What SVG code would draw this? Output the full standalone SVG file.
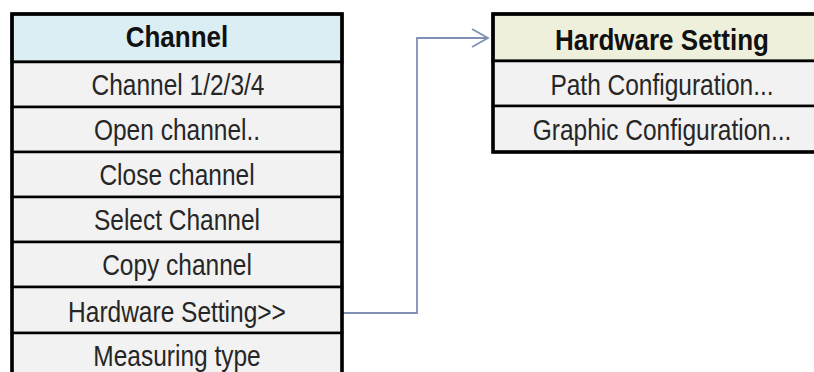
<svg xmlns="http://www.w3.org/2000/svg" width="814" height="372" viewBox="0 0 814 372">
<style>
.row{fill:#f2f2f2;stroke:#000;stroke-width:2.5}
.hdrL{fill:#dbeef4;stroke:#000;stroke-width:3}
.hdrR{fill:#eef0dc;stroke:#000;stroke-width:3}
.t{font-family:"Liberation Sans",Arial,sans-serif;font-size:24.5px;fill:#262626;text-anchor:middle}
.b{font-family:"Liberation Sans",Arial,sans-serif;font-size:26px;font-weight:bold;fill:#111;text-anchor:middle}
.outer{fill:none;stroke:#000;stroke-width:3.5}
.conn{fill:none;stroke:#7f90b4;stroke-width:1.8}
</style>
<defs>
<marker id="chev" viewBox="0 0 20 20" refX="18" refY="10" markerWidth="20" markerHeight="20" markerUnits="userSpaceOnUse" orient="auto">
<path d="M2,1 L18,10 L2,19" fill="none" stroke="#7f90b4" stroke-width="1.8"/>
</marker>
</defs>
<rect width="814" height="372" fill="#fff"/>
<g id="connectors">
<polyline class="conn" points="343,313 417,313 417,38 488,38" marker-end="url(#chev)"/>
</g>
<g id="channel">
<g id="channel-header"><rect class="hdrL" x="12" y="14" width="330" height="48"/><text class="b" transform="translate(177,47) scale(1,1.1)">Channel</text></g>
<g id="row-ch1234"><rect class="row" x="12" y="62" width="330" height="45"/><text class="t" transform="translate(178,95) scale(1,1.22)">Channel 1/2/3/4</text></g>
<g id="row-open"><rect class="row" x="12" y="107" width="330" height="45"/><text class="t" transform="translate(177,140) scale(1,1.22)">Open channel..</text></g>
<g id="row-close"><rect class="row" x="12" y="152" width="330" height="45"/><text class="t" transform="translate(177,185) scale(1,1.22)">Close channel</text></g>
<g id="row-select"><rect class="row" x="12" y="197" width="330" height="45"/><text class="t" transform="translate(177,230) scale(1,1.22)">Select Channel</text></g>
<g id="row-copy"><rect class="row" x="12" y="242" width="330" height="45"/><text class="t" transform="translate(177,275) scale(1,1.22)">Copy channel</text></g>
<g id="row-hw"><rect class="row" x="12" y="287" width="330" height="46"/><text class="t" transform="translate(177,322) scale(1,1.22)">Hardware Setting&gt;&gt;</text></g>
<g id="row-measure"><rect class="row" x="12" y="333" width="330" height="50"/><text class="t" transform="translate(177,366) scale(1,1.22)">Measuring type</text></g>
<rect class="outer" x="12" y="14" width="330" height="370"/>
</g>
<g id="hardware">
<g id="hw-header"><rect class="hdrR" x="493" y="14" width="340" height="47"/><text class="b" transform="translate(662,50) scale(1,1.1)">Hardware Setting</text></g>
<g id="row-path"><rect class="row" x="493" y="61" width="340" height="45"/><text class="t" transform="translate(662,95) scale(1,1.22)">Path Configuration...</text></g>
<g id="row-graphic"><rect class="row" x="493" y="106" width="340" height="46"/><text class="t" transform="translate(662,140) scale(1,1.22)">Graphic Configuration...</text></g>
<rect class="outer" x="493" y="14" width="340" height="138"/>
</g>
</svg>
